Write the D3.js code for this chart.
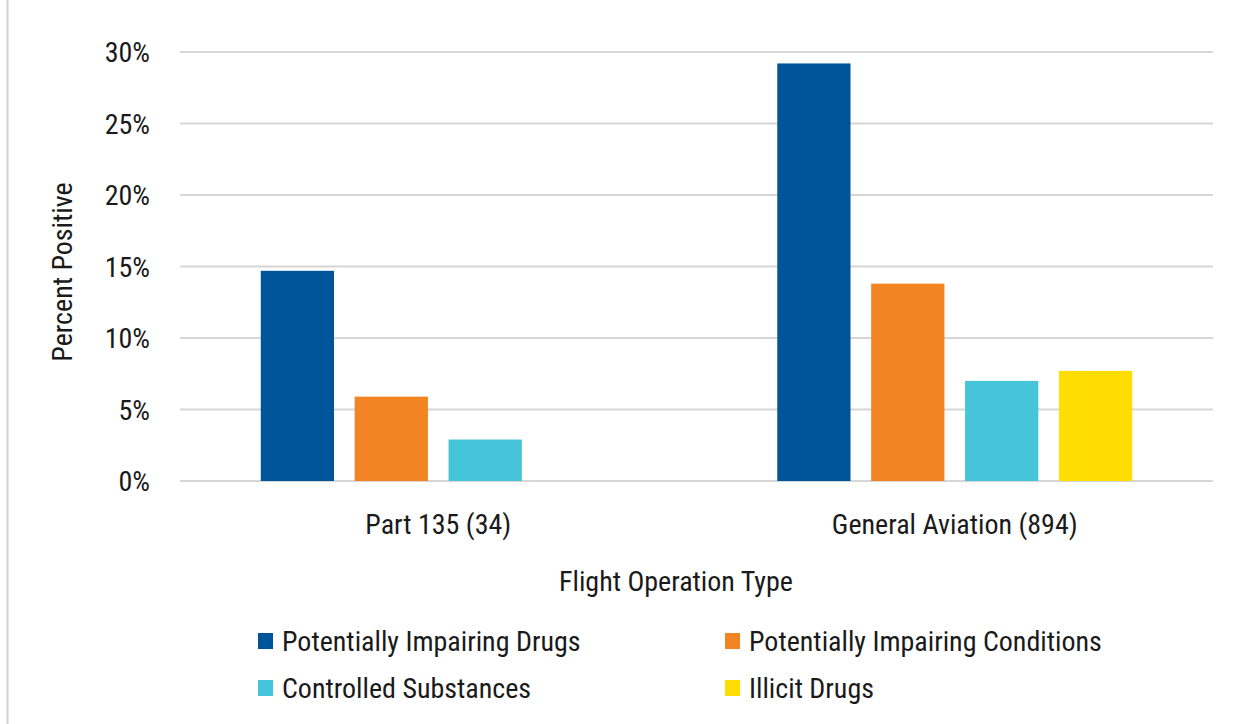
<!DOCTYPE html>
<html><head><meta charset="utf-8">
<script src="https://cdn.jsdelivr.net/npm/d3@7"></script>
<style>
html,body{margin:0;padding:0;background:#fff;}
text{font-family:"Roboto Condensed","Liberation Sans Narrow","DejaVu Sans Condensed",Roboto,sans-serif;fill:#1a1a1a;}
</style></head>
<body>
<svg id="chart" width="1238" height="724"></svg>
<script>
const categories = ["Part 135 (34)", "General Aviation (894)"];
const seriesNames = ["Potentially Impairing Drugs", "Potentially Impairing Conditions", "Controlled Substances", "Illicit Drugs"];
const seriesColors = ["#00559A", "#F38424", "#45C4DA", "#FFDD00"];
const potentiallyImpairingDrugs = [14.7, 29.2];
const potentiallyImpairingConditions = [5.9, 13.8];
const controlledSubstances = [2.9, 7.0];
const illicitDrugs = [null, 7.7];
const yTicks = [0, 5, 10, 15, 20, 25, 30];
const xTitle = "Flight Operation Type";
const yTitle = "Percent Positive";

const seriesValues = [potentiallyImpairingDrugs, potentiallyImpairingConditions, controlledSubstances, illicitDrugs];

const svg = d3.select("#chart");
const m = {left:180, right:1213, top:52, bottom:481};
const FS = "28px";

// left border
svg.append("line").attr("x1",7.5).attr("x2",7.5).attr("y1",0).attr("y2",724)
  .attr("stroke","#d0d0d0").attr("stroke-width",2);

const y = d3.scaleLinear().domain([0,30]).range([m.bottom, m.top]);
const x0 = d3.scaleBand().domain(categories).range([m.left, m.right]).padding(0);
const x1 = d3.scaleBand().domain(seriesNames).range([0, x0.bandwidth()]).paddingInner(0.22).paddingOuter(0.86);

// gridlines
svg.append("g").selectAll("line").data(yTicks).join("line")
  .attr("x1", m.left).attr("x2", m.right)
  .attr("y1", d=>y(d)).attr("y2", d=>y(d))
  .attr("stroke","#d6d6d6").attr("stroke-width",2);

// y axis labels
const yAxis = d3.axisLeft(y).tickValues(yTicks).tickFormat(d=>d+"%").tickSize(0).tickPadding(0);
const gy = svg.append("g").attr("transform","translate(150,0)").call(yAxis);
gy.select(".domain").remove();
gy.selectAll("text").style("font-size",FS).attr("fill","#1a1a1a").attr("dy","0.35em");

// bars
const groups = svg.append("g").selectAll("g").data(categories).join("g")
  .attr("transform", d=>`translate(${x0(d)},0)`);
groups.selectAll("rect").data((c,ci)=>seriesNames.map((s,si)=>({s, si, v: seriesValues[si][ci]})).filter(d=>d.v!=null))
  .join("rect")
  .attr("x", d=>x1(d.s)).attr("width", x1.bandwidth())
  .attr("y", d=>y(d.v)).attr("height", d=>y(0)-y(d.v))
  .attr("fill", d=>seriesColors[d.si]);

// x axis labels
const xAxis = d3.axisBottom(x0).tickSize(0).tickPadding(0);
const gx = svg.append("g").attr("transform",`translate(0,${m.bottom+53})`).call(xAxis);
gx.select(".domain").remove();
gx.selectAll("text").style("font-size",FS).attr("fill","#1a1a1a").attr("dy","0");

// axis titles
svg.append("text").attr("x",676).attr("y",591).attr("text-anchor","middle")
  .style("font-size",FS).text(xTitle);
svg.append("text").attr("transform",`translate(72,272) rotate(-90)`).attr("text-anchor","middle")
  .style("font-size",FS).text(yTitle);

// legend
const legPos = [[258,641],[725,641],[258,688],[725,688]];
const leg = svg.append("g").selectAll("g").data(seriesNames).join("g")
  .attr("transform",(d,i)=>`translate(${legPos[i][0]},${legPos[i][1]})`);
leg.append("rect").attr("x",0).attr("y",-8).attr("width",15).attr("height",16)
  .attr("fill",(d,i)=>seriesColors[i]);
leg.append("text").attr("x",24).attr("y",0).attr("dy","0.35em")
  .style("font-size",FS).text(d=>d);
</script>
</body></html>
